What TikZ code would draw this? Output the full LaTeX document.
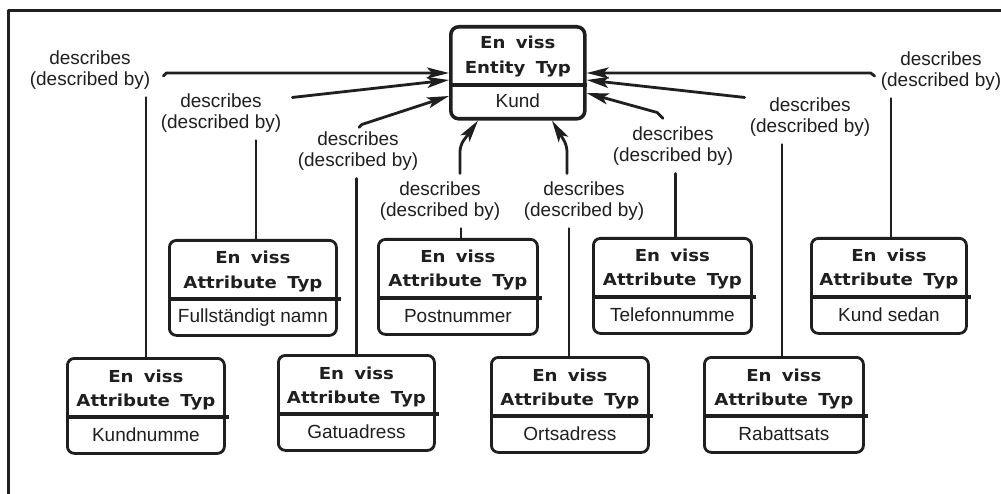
\documentclass[tikz,border=0pt]{standalone}
\usepackage{fontspec}
\setmainfont{Liberation Sans}
\newfontfamily\headfont{DejaVu Sans}[FakeStretch=1.1]
\usetikzlibrary{arrows.meta,calc}
\definecolor{ink}{gray}{0.12}

\tikzset{
  ink line/.style={draw=ink, line cap=round, line join=round},
  abox/.style={ink line, line width=2.8pt, rounded corners=7pt, minimum height=95pt, inner sep=0pt},
  ebox/.style={ink line, line width=3.6pt, rounded corners=8pt, minimum width=134pt, minimum height=92pt, inner sep=0pt},
  divider/.style={ink line, line width=3.2pt, line cap=butt},
  headtxt/.style={font=\headfont\bfseries\fontsize{16.5}{18}\selectfont, text=ink, inner sep=0pt, anchor=base},
  bodytxt/.style={font=\fontsize{19}{21}\selectfont, text=ink, inner sep=0pt, anchor=base},
  rel/.style={font=\fontsize{19}{21}\selectfont, text=ink, align=center, inner sep=0pt},
  link/.style={ink line, line width=2.8pt},
  toent/.style={link, -{Stealth[length=22pt,width=11pt,inset=5pt]}},
  frame/.style={ink line, line width=3pt, line cap=butt},
}

% attribute type box: name, left x, top y, width, value text
\newcommand\attrbox[5]{%
  \node[abox, minimum width=#4pt, anchor=north west] (#1) at (#2,#3) {};
  \node[headtxt] (#1-a) at ($(#1.north)+(0,25)$) {En\hspace{4pt} viss};
  \node[headtxt] (#1-b) at ($(#1.north)+(0,49)$) {Attribute\hspace{4pt} Typ};
  \draw[divider] ($(#1.north west)+(0,60)$) -- ($(#1.north east)+(3,60)$);
  \node[bodytxt] (#1-c) at ($(#1.north)+(0,84)$) {#5};
}

\begin{document}
\begin{tikzpicture}[x=1pt, y=-1pt]
  \useasboundingbox[fill=white] (0,0) rectangle (1001,494);

  % outer frame
  \draw[frame] (8,494) -- (8,11) -- (1001,11);

  % entity type
  \node[ebox, anchor=north west] (ent) at (449,25) {};
  \node[headtxt] (ent-a) at ($(ent.north)+(0,24)$) {En\hspace{4pt} viss};
  \node[headtxt] (ent-b) at ($(ent.north)+(0,49)$) {Entity\hspace{4pt} Typ};
  \draw[divider] ($(ent.north west)+(0,60)$) -- ($(ent.north east)+(0,60)$);
  \node[bodytxt] (ent-c) at ($(ent.north)+(0,83)$) {Kund};

  % attribute types, upper row
  \attrbox{k2}{168}{239}{167}{Fullständigt namn}
  \attrbox{k4}{377}{238}{159}{Postnummer}
  \attrbox{k6}{592}{237}{158}{Telefonnumme}
  \attrbox{k8}{810}{237}{155}{Kund sedan}
  % attribute types, lower row
  \attrbox{k1}{66}{357}{157}{Kundnumme}
  \attrbox{k3}{277}{354}{156}{Gatuadress}
  \attrbox{k5}{490}{356}{157}{Ortsadress}
  \attrbox{k7}{703}{356}{159}{Rabattsats}

  % relationship labels
  \node[rel] (L1) at (90,70)  {describes\\(described by)};
  \node[rel] (L2) at (221,113) {describes\\(described by)};
  \node[rel] (L3) at (358,151) {describes\\(described by)};
  \node[rel] (L4) at (440,201) {describes\\(described by)};
  \node[rel] (L5) at (584,201) {describes\\(described by)};
  \node[rel] (L6) at (673,146) {describes\\(described by)};
  \node[rel] (L7) at (810,117) {describes\\(described by)};
  \node[rel] (L8) at (941,71)  {describes\\(described by)};

  % arrow tips on the entity border
  \coordinate (e1) at ($(ent.north west)+(0,48)$);
  \coordinate (e2) at ($(ent.north west)+(0,55)$);
  \coordinate (e3) at ($(ent.north west)+(0,71)$);
  \coordinate (e4) at ($(ent.south west)+(29,0)$);
  \coordinate (e5) at ($(ent.south west)+(103,0)$);
  \coordinate (e6) at ($(ent.north east)+(0,68)$);
  \coordinate (e7) at ($(ent.north east)+(0,55)$);
  \coordinate (e8) at ($(ent.north east)+(0,48)$);

  % attribute box up to its label
  \draw[link, shorten >=8pt] (k1.north) -- (k1.north |- L1.south);
  \draw[link, shorten >=8pt] ([xshift=3pt]k2.north) -- ([xshift=3pt]k2.north |- L2.south);
  \draw[link, shorten >=8pt] (k3.north) -- (k3.north |- L3.south);
  \draw[link, shorten >=8pt] ([xshift=3pt]k4.north) -- ([xshift=3pt]k4.north |- L4.south);
  \draw[link, shorten >=8pt] ([xshift=-1pt]k5.north) -- ([xshift=-1pt]k5.north |- L5.south);
  \draw[link, shorten >=8pt] ([xshift=3pt]k6.north) -- ([xshift=3pt]k6.north |- L6.south);
  \draw[link, shorten >=8pt] ([xshift=-2pt]k7.north) -- ([xshift=-2pt]k7.north |- L7.south);
  \draw[link, shorten >=8pt] ([xshift=2pt]k8.north) -- ([xshift=2pt]k8.north |- L8.south);

  % label on to the entity type
  \draw[toent] ([xshift=13pt,yshift=-6pt]L1.east) -- ([xshift=16pt]L1.east |- e1) -- (e1);
  \draw[toent] ([xshift=11pt,yshift=-4pt]L2.north east) -- (e2);
  \draw[toent] ([xshift=1pt,yshift=4pt]L3.north) -- ([xshift=4pt,yshift=7pt]L3.north) -- (e3);
  \draw[toent, rounded corners=6pt] ([xshift=20pt,yshift=8pt]L4.north) -- ++(0,-28) -- (e4);
  \draw[toent, rounded corners=6pt] ([xshift=-17pt,yshift=8pt]L5.north) -- ++(0,-28) -- (e5);
  \draw[toent] ([xshift=-10pt,yshift=8pt]L6.north) -- ([xshift=-16pt,yshift=14pt]L6.north) -- (e6);
  \draw[toent] ([xshift=-5pt]L7.north west) -- (e7);
  \draw[toent] ([xshift=-6pt,yshift=-5pt]L8.west) -- ([xshift=-10pt]L8.west |- e8) -- (e8);
\end{tikzpicture}
\end{document}
